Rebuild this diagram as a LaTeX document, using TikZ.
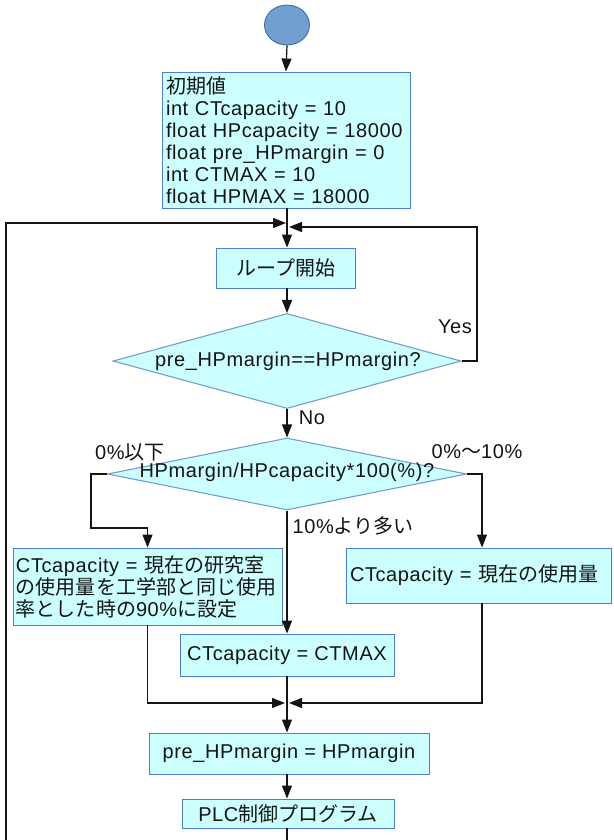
\documentclass[tikz,border=0pt]{standalone}
\usepackage{fontspec}
\setmainfont[LetterSpace=3]{Liberation Sans}
\newfontfamily\jp{Noto Sans CJK JP}
\usetikzlibrary{shapes.geometric,arrows.meta}
\definecolor{boxfill}{RGB}{204,255,255}
\definecolor{boxline}{RGB}{80,126,204}
\definecolor{dialine}{RGB}{114,159,207}
\definecolor{circfill}{RGB}{114,159,207}
\definecolor{circline}{RGB}{52,101,164}
\definecolor{ink}{RGB}{20,20,20}
\begin{document}
\begin{tikzpicture}[x=1pt,y=-1pt,
  every node/.style={font=\fontsize{20pt}{22pt}\selectfont, text=ink},
  procbox/.style={draw=boxline, fill=boxfill, line width=0.9pt, rectangle, inner ysep=0pt},
  decision/.style={draw=dialine, fill=boxfill, line width=1.1pt, diamond, inner sep=0pt},
  conn/.style={draw=ink, line width=1.2pt},
  arr/.style={conn, -{Triangle[length=13pt,width=10pt]}},
  lbl/.style={inner sep=0pt}
]
\useasboundingbox (0,0) rectangle (613,840);
\clip (0,0) rectangle (613,840);

% nodes
\node[ellipse, draw=circline, fill=circfill, line width=0.8pt, minimum width=45, minimum height=40, inner sep=0pt] (start) at (287,25) {};
\node[procbox, text width=240, inner xsep=4, minimum height=136, align=left] (init) at (286,140)
  {{\jp 初期値}\\int CTcapacity = 10\\float HPcapacity = 18000\\float pre\_HPmargin = 0\\int CTMAX = 10\\float HPMAX = 18000};
\node[procbox, minimum width=139, minimum height=40] (loop) at (286,268) {\jp ループ開始};
\node[decision, minimum width=348, minimum height=95] (d1) at (287,361) {};
\node[lbl] (d1t) at (288,361) {pre\_HPmargin==HPmargin?};
\node[decision, minimum width=359, minimum height=72] (d2) at (287,474) {};
\node[lbl] (d2t) at (287,472) {HPmargin/HPcapacity*100(\%)?};
\node[procbox, text width=263, inner xsep=3, minimum height=77, align=left] (lb) at (147.5,586.5)
  {CTcapacity = {\jp 現在の研究室}\\{\jp の使用量を工学部と同じ使用}\\{\jp 率とした時の}90\%{\jp に設定}};
\node[procbox, text width=257, inner xsep=4, minimum height=55, align=left] (rb) at (478.5,575.5)
  {CTcapacity = {\jp 現在の使用量}};
\node[procbox, minimum width=214, minimum height=42] (ct) at (287,655) {CTcapacity = CTMAX};
\node[procbox, minimum width=280, minimum height=41] (pre) at (289,753.5) {pre\_HPmargin = HPmargin};
\node[procbox, minimum width=212, minimum height=29] (plc) at (288,813.5) {PLC{\jp 制御プログラム}};

% labels
\node[lbl] (yes) at (455,327) {Yes};
\node[lbl] (no) at (312,418) {No};
\node[lbl] (lo) at (130,452) {0\%{\jp 以下}};
\node[lbl] (mid) at (477,452) {0\%{\jp ～}10\%};
\node[lbl] (hi) at (353,526) {10\%{\jp より多い}};

% coordinates
\coordinate (m1) at (286,223);
\coordinate (m2) at (289,227);
\coordinate (lp) at (6,223);
\coordinate (bl) at (6,860);
\coordinate (bm) at (287,860);
\coordinate (yr) at (477,227);
\coordinate (l1) at (91,528);
\coordinate (mjl) at (285,703);
\coordinate (mjr) at (289,703);

% connectors
\draw[arr] (start.south) -- (init.north);
\draw[arr] (init.south -| start.south) -- (loop.north -| start.south);
\draw[arr] (loop.south -| start.south) -- (d1.north);
\draw[arr] (plc.south -| start.south) -- (bm) -- (bl) -- (lp) -- (m1);
\draw[arr] (d1.east) -| (yr) -- (m2);
\draw[arr] (d1.south) -- (d2.north);
\draw[arr] (d2.west) -| (l1) -| (lb.north);
\draw[arr] (d2.south) -- (ct.north);
\draw[arr] (d2.east) -| ([xshift=3.5]rb.north);
\draw[arr] (lb.south) |- (mjl);
\draw[arr] ([xshift=3.5]rb.south) |- (mjr);
\draw[arr] (ct.south) -- (ct.south |- pre.north);
\draw[arr] (pre.south -| ct.south) -- (plc.north -| ct.south);
\end{tikzpicture}
\end{document}
